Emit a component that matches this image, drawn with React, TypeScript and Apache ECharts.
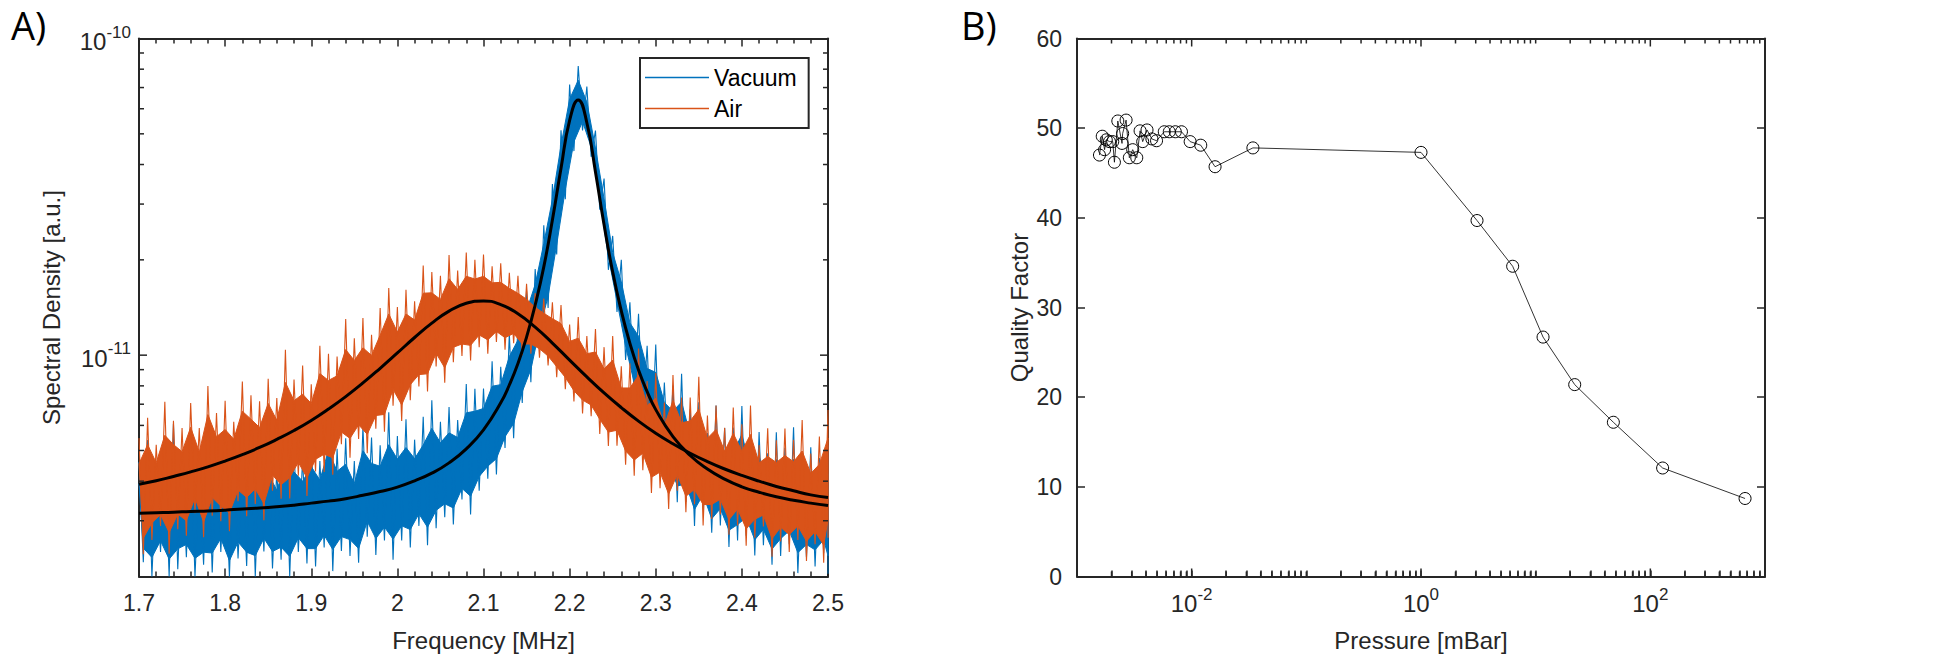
import React, { useEffect, useRef } from 'react';
import * as echarts from 'echarts';

// ---------------- Panel A: spectral density (values in units of 1e-12) ----------------
const densityUnit = 1e-12;
const noiseStartMHz = 1.7;
const noiseStepMHz = 0.01;

// upper (spike) and lower excursions of the measured noise, read every 0.01 MHz
const vacuumHi = [4.6, 5.4, 4.29, 4.93, 6.06, 4.48, 5.14, 4.17, 5.64, 4.85,
  4.54, 5.36, 4.41, 5.9, 4.77, 5.13, 4.32, 5.68, 5.04, 4.73,
  5.46, 4.63, 6.4, 5.06, 5.46, 4.63, 5.96, 5.49, 5.19, 6.6,
  5.55, 6.27, 5.41, 6.39, 7.21, 6.16, 6.86, 6.24, 8.1, 7.83,
  7.84, 9.56, 9.19, 11.7, 12.7, 16.0, 18.7, 25.7, 34.7, 51.3,
  71.6, 81.9, 70.5, 51.2, 36.1, 23.8, 20.0, 14.7, 13.5, 10.7,
  10.8, 8.19, 8.02, 8.74, 6.75, 7.1, 5.68, 6.93, 5.89, 5.91,
  6.91, 5.26, 5.72, 4.9, 5.71, 5.1, 5.92, 4.47, 5.12, 4.73,
  5.19];
const vacuumLo = [2.22, 2.0, 2.39, 1.91, 2.11, 2.3, 1.86, 2.18, 2.06, 2.39,
  1.98, 2.28, 2.16, 1.97, 2.4, 2.12, 2.26, 1.97, 2.39, 2.2,
  2.15, 2.47, 2.08, 2.41, 2.32, 2.21, 2.67, 2.34, 2.6, 2.26,
  2.6, 2.47, 2.89, 2.51, 2.84, 3.08, 2.92, 3.5, 3.14, 3.73,
  4.07, 4.2, 5.09, 5.47, 7.06, 8.21, 11.2, 14.1, 20.8, 31.1,
  44.1, 51.2, 42.3, 28.8, 18.6, 13.7, 9.66, 7.41, 6.46, 5.06,
  4.31, 4.25, 3.43, 3.44, 2.89, 3.25, 2.75, 2.9, 2.48, 2.6,
  2.69, 2.33, 2.51, 2.18, 2.32, 2.53, 2.05, 2.3, 2.15, 2.37,
  2.04];
const airHi = [5.47, 6.34, 5.21, 7.12, 6.21, 5.89, 7.06, 5.89, 7.99, 6.57,
  7.18, 6.16, 8.25, 7.47, 7.15, 8.42, 7.32, 10.4, 8.38, 9.28,
  8.09, 10.7, 10.1, 9.9, 13.0, 11.3, 13.1, 11.6, 14.1, 16.3,
  14.2, 16.1, 14.8, 19.2, 18.3, 17.8, 20.7, 18.5, 21.1, 20.0,
  20.8, 19.1, 19.5, 18.2, 17.8, 16.8, 15.7, 15.1, 14.7, 14.4,
  12.5, 13.2, 11.5, 12.1, 10.6, 11.5, 9.22, 9.43, 10.5, 8.29,
  8.79, 7.09, 8.66, 7.35, 7.35, 8.55, 6.45, 6.94, 5.9, 6.83,
  6.05, 6.94, 5.2, 5.88, 5.39, 5.87, 5.41, 6.24, 4.89, 5.53,
  6.71];
const airLo = [2.35, 2.61, 2.89, 2.36, 2.82, 2.69, 3.17, 2.66, 3.11, 2.99,
  2.78, 3.46, 3.1, 3.39, 3.01, 3.73, 3.52, 3.53, 4.16, 3.59,
  4.29, 4.28, 4.19, 5.23, 4.74, 5.44, 4.9, 5.86, 5.73, 6.92,
  6.2, 7.21, 7.96, 7.68, 9.21, 8.18, 9.5, 9.94, 9.62, 10.6,
  10.1, 11.0, 10.4, 10.9, 10.0, 10.1, 9.81, 9.28, 8.52, 7.81,
  7.14, 6.54, 6.41, 5.64, 5.17, 5.18, 4.51, 4.16, 4.33, 3.67,
  3.8, 3.27, 3.73, 3.19, 3.38, 2.9, 3.04, 3.14, 2.71, 2.9,
  2.5, 2.65, 2.88, 2.31, 2.58, 2.39, 2.61, 2.24, 2.53, 2.21,
  2.65];

const vacuumFitFreq = [1.70, 1.72, 1.74, 1.76, 1.78, 1.80, 1.82, 1.84, 1.86, 1.88,
  1.90, 1.92, 1.94, 1.96, 1.98, 2.00, 2.02, 2.04, 2.06, 2.08, 2.10, 2.12,
  2.13, 2.14, 2.15, 2.16, 2.17, 2.18, 2.19, 2.20, 2.21, 2.22, 2.23, 2.24,
  2.25, 2.26, 2.27, 2.28, 2.29, 2.30,
  2.32, 2.34, 2.36, 2.38, 2.40, 2.42, 2.44, 2.46, 2.48, 2.50];
const vacuumFitVal = [3.17, 3.18, 3.19, 3.21, 3.22, 3.24, 3.27, 3.29, 3.32, 3.36,
  3.41, 3.46, 3.52, 3.61, 3.71, 3.83, 4.01, 4.24, 4.57, 5.06, 5.81, 7.07,
  8.05, 9.41, 11.4, 14.4, 19.0, 26.7, 38.9, 55.1, 64.0, 54.2, 37.9, 25.8,
  18.3, 13.8, 10.9, 8.97, 7.67, 6.73,
  5.53, 4.82, 4.37, 4.06, 3.84, 3.69, 3.57, 3.48, 3.41, 3.35];

const airFitFreq = [1.70, 1.72, 1.74, 1.76, 1.78, 1.80, 1.82, 1.84, 1.86, 1.88,
  1.90, 1.92, 1.94, 1.96, 1.98, 2.00, 2.02, 2.04, 2.06, 2.08,
  2.10, 2.12, 2.14, 2.16, 2.18, 2.20, 2.22, 2.24, 2.26, 2.28,
  2.30, 2.32, 2.34, 2.36, 2.38, 2.40, 2.42, 2.44, 2.46, 2.48, 2.50];
const airFitVal = [3.91, 4.01, 4.14, 4.28, 4.44, 4.63, 4.85, 5.11, 5.42, 5.78,
  6.22, 6.76, 7.40, 8.17, 9.09, 10.16, 11.37, 12.62, 13.77, 14.58,
  14.84, 14.45, 13.51, 12.26, 10.92, 9.65, 8.54, 7.60, 6.83, 6.19,
  5.67, 5.25, 4.90, 4.61, 4.37, 4.17, 4.00, 3.85, 3.73, 3.62, 3.55];

const legendNames = ['Vacuum', 'Air'];

// ---------------- Panel B: quality factor vs pressure ----------------
const pressure = [0.00157, 0.00166, 0.00174, 0.0018, 0.00192, 0.00205, 0.00212, 0.00227,
  0.00247, 0.0025, 0.00268, 0.00286, 0.00306, 0.00332, 0.00355, 0.00374, 0.00408, 0.0045,
  0.00494, 0.00577, 0.00638, 0.0072, 0.00815, 0.0097, 0.012, 0.016, 0.0342,
  1.0, 3.08, 6.3, 11.6, 21.9, 47.6, 128, 670];
const qualityFactor = [47.0, 49.1, 47.6, 48.7, 48.5, 48.5, 46.2, 50.8,
  48.3, 49.4, 50.9, 46.7, 47.6, 46.7, 49.7, 48.5, 49.8, 48.8,
  48.6, 49.6, 49.6, 49.6, 49.6, 48.5, 48.1, 45.7, 47.8,
  47.3, 39.7, 34.6, 26.7, 21.4, 17.2, 12.1, 8.7];

// ---------------- axis ranges ----------------
const freqMin = 1.7, freqMax = 2.5, freqStep = 0.1;
const densityMin = 2e-12, densityMax = 1e-10;
const pressureMin = 1e-3, pressureMax = 1e3;
const qMin = 0, qMax = 60, qStep = 10;

const axisColor = '#262626';
const font = '"Liberation Sans", Arial, sans-serif';
const blue = '#0072BD';
const orange = '#D95319';
const tickFont = 23;
const titleFont = 24;

function powLabel(v: number) {
  const e = Math.log10(v);
  const r = Math.round(e);
  if (Math.abs(e - r) > 1e-6) return '';
  return `{b|10}{s|${r}}`;
}
const powRich = {
  b: { fontSize: 24, fontFamily: font, color: axisColor, lineHeight: 30, verticalAlign: 'bottom' },
  s: { fontSize: 17, fontFamily: font, color: axisColor, lineHeight: 17, verticalAlign: 'top' },
};

function logTicks(min: number, max: number, majorEven: boolean) {
  const out: number[][] = [];
  const e0 = Math.floor(Math.log10(min));
  const e1 = Math.ceil(Math.log10(max));
  for (let e = e0; e <= e1; e++) {
    for (let k = 1; k <= 9; k++) {
      const v = k * Math.pow(10, e);
      if (v <= min * 1.0001 || v >= max * 0.9999) continue;
      out.push([v, k === 1 && (!majorEven || e % 2 === 0) ? 1 : 0]);
    }
  }
  return out;
}

const tickLine = { color: axisColor, width: 1.5 };
const tickStyle = { stroke: axisColor, lineWidth: 1.5 };

// noise band: solid core plus spikes, drawn from the spike tops and dips through the axis scales
function bandSeries(name: string, color: string, hi: number[], lo: number[], z: number) {
  return {
    name, type: 'custom', xAxisIndex: 0, yAxisIndex: 0, z, silent: true,
    color, itemStyle: { color },
    data: hi.map((h, i) => [noiseStartMHz + i * noiseStepMHz, h * densityUnit, lo[i] * densityUnit]),
    renderItem: (params: any, api: any) => {
      if (params.dataIndex !== 0) return null;
      const cs = params.coordSys;
      const n = params.dataInsideLength;
      const clampPt = (p: number[]) => [
        Math.min(Math.max(p[0], cs.x), cs.x + cs.width),
        Math.min(Math.max(p[1], cs.y), cs.y + cs.height),
      ];
      const upper: number[][] = [];
      const lower: number[][] = [];
      const zig: number[][] = [];
      for (let j = 0; j < n; j++) {
        const f = api.value(0, j);
        const a = clampPt(api.coord([f, api.value(1, j)]));
        const b = clampPt(api.coord([f + noiseStepMHz / 2, api.value(2, j)]));
        upper.push([a[0], b[1] + 0.78 * (a[1] - b[1])]);
        lower.push([b[0], b[1] + 0.14 * (a[1] - b[1])]);
        zig.push(a, b);
      }
      const poly = upper.concat(lower.slice().reverse());
      return {
        type: 'group',
        children: [
          { type: 'polygon', shape: { points: poly }, style: { fill: color, stroke: color, lineWidth: 1 } },
          { type: 'polyline', shape: { points: zig }, style: { fill: 'none', stroke: color, lineWidth: 1.1 } },
        ],
      };
    },
  };
}

export default function App() {
  const ref = useRef<HTMLDivElement>(null);
  useEffect(() => {
    if (!ref.current) return;
    const chart = echarts.init(ref.current, undefined, { renderer: 'svg' });

    const densTicks = logTicks(densityMin, densityMax, false);
    const presTicks = logTicks(pressureMin, pressureMax, true);

    const frameLine = { show: true, onZero: false, lineStyle: { color: axisColor, width: 2 } };
    const hidden = { show: false };
    const majorTick = { show: true, inside: true, length: 8, lineStyle: tickLine };
    const minorTick = { show: true, splitNumber: 5, length: 5, lineStyle: tickLine };
    const titleStyle = { fontSize: titleFont, color: axisColor, fontFamily: font };

    const pressAxis = { type: 'log', logBase: 10, min: pressureMin, max: pressureMax, splitLine: hidden, minorTick: hidden };
    const densAxis = { type: 'log', logBase: 10, min: densityMin, max: densityMax, splitLine: hidden, minorTick: hidden };

    const option: any = {
      animation: false,
      backgroundColor: '#fff',
      textStyle: { fontFamily: font },
      graphic: [
        { type: 'text', left: 11, top: 6, style: { text: 'A)', fontSize: 38, fontFamily: '"Open Sans", sans-serif', fill: '#000' } },
        { type: 'text', left: 961, top: 6, style: { text: 'B)', fontSize: 38, fontFamily: '"Open Sans", sans-serif', fill: '#000' } },
      ],
      legend: {
        data: legendNames,
        orient: 'vertical',
        left: 640,
        top: 58,
        icon: 'rect',
        itemWidth: 64,
        itemHeight: 1.5,
        itemGap: 8,
        padding: [8, 12, 8, 5],
        backgroundColor: '#fff',
        borderColor: axisColor,
        borderWidth: 2,
        z: 10,
        textStyle: { fontSize: 23, color: '#000', fontFamily: font },
      },
      grid: [
        { left: 139, top: 38.5, width: 689, height: 538 },
        { left: 1077, top: 38.5, width: 688, height: 538 },
      ],
      xAxis: [
        {
          type: 'value', gridIndex: 0, position: 'bottom', min: freqMin, max: freqMax, interval: freqStep,
          axisLine: frameLine, axisTick: majorTick, minorTick, splitLine: hidden,
          axisLabel: { fontSize: tickFont, color: axisColor, margin: 15, fontFamily: font },
          name: 'Frequency [MHz]', nameLocation: 'middle', nameGap: 52, nameTextStyle: titleStyle,
        },
        {
          type: 'value', gridIndex: 0, position: 'top', min: freqMin, max: freqMax, interval: freqStep,
          axisLine: frameLine, axisTick: majorTick, minorTick, splitLine: hidden, axisLabel: hidden,
        },
        {
          ...pressAxis, gridIndex: 1, position: 'bottom',
          axisLine: frameLine,
          axisTick: { show: true, inside: true, length: 6, lineStyle: tickLine, customValues: presTicks.map((t) => t[0]) },
          axisLabel: {
            margin: 9, fontSize: 24, fontFamily: font,
            formatter: (v: number) => (Math.round(Math.log10(v)) % 2 === 0 ? powLabel(v) : ''),
            rich: powRich,
          },
          name: 'Pressure [mBar]', nameLocation: 'middle', nameGap: 52, nameTextStyle: titleStyle,
        },
        {
          ...pressAxis, gridIndex: 1, position: 'top',
          axisLine: frameLine, axisTick: hidden, axisLabel: hidden,
        },
      ],
      yAxis: [
        {
          ...densAxis, gridIndex: 0, position: 'left',
          axisLine: frameLine, axisTick: hidden,
          axisLabel: { margin: 8, fontSize: 24, fontFamily: font, formatter: powLabel, rich: powRich },
          name: 'Spectral Density [a.u.]', nameLocation: 'middle', nameGap: 76, nameRotate: 90, nameTextStyle: titleStyle,
        },
        {
          ...densAxis, gridIndex: 0, position: 'right',
          axisLine: frameLine, axisTick: hidden, axisLabel: hidden,
        },
        {
          type: 'value', gridIndex: 1, position: 'left', min: qMin, max: qMax, interval: qStep,
          axisLine: frameLine, axisTick: majorTick, splitLine: hidden,
          axisLabel: { fontSize: tickFont, color: axisColor, margin: 15, fontFamily: font },
          name: 'Quality Factor', nameLocation: 'middle', nameGap: 46, nameRotate: 90, nameTextStyle: titleStyle,
        },
        {
          type: 'value', gridIndex: 1, position: 'right', min: qMin, max: qMax, interval: qStep,
          axisLine: frameLine, axisTick: majorTick, splitLine: hidden, axisLabel: hidden,
        },
      ],
      series: [
        bandSeries('Vacuum', blue, vacuumHi, vacuumLo, 2),
        bandSeries('Air', orange, airHi, airLo, 3),
        {
          name: 'Vacuum fit', type: 'line', xAxisIndex: 0, yAxisIndex: 0,
          data: vacuumFitFreq.map((f, i) => [f, vacuumFitVal[i] * densityUnit]),
          showSymbol: false, symbol: 'none', smooth: true, color: '#000', lineStyle: { color: '#000', width: 3 }, z: 4, silent: true,
        },
        {
          name: 'Air fit', type: 'line', xAxisIndex: 0, yAxisIndex: 0,
          data: airFitFreq.map((f, i) => [f, airFitVal[i] * densityUnit]),
          showSymbol: false, symbol: 'none', smooth: true, color: '#000', lineStyle: { color: '#000', width: 3 }, z: 4, silent: true,
        },
        {
          // log tick marks of the spectral-density axis, on the left and right frame
          name: 'densityTicks', type: 'custom', xAxisIndex: 0, yAxisIndex: 0, silent: true, z: 6,
          data: densTicks.map(([v, m]) => [freqMin, v, m]),
          renderItem: (params: any, api: any) => {
            const v = api.value(1);
            const pl = api.coord([freqMin, v]);
            const pr = api.coord([freqMax, v]);
            const len = api.value(2) ? 8 : 5;
            return {
              type: 'group', children: [
                { type: 'line', shape: { x1: pl[0], y1: pl[1], x2: pl[0] + len, y2: pl[1] }, style: tickStyle },
                { type: 'line', shape: { x1: pr[0], y1: pr[1], x2: pr[0] - len, y2: pr[1] }, style: tickStyle },
              ],
            };
          },
        },
        {
          name: 'Quality Factor', type: 'line', xAxisIndex: 2, yAxisIndex: 2,
          data: pressure.map((p, i) => [p, qualityFactor[i]]),
          symbol: 'circle', symbolSize: 12, showSymbol: true, silent: true,
          lineStyle: { color: '#000', width: 0.8 },
          itemStyle: { color: 'rgba(0,0,0,0)', borderColor: '#000', borderWidth: 1 },
          z: 5,
        },
        {
          // log tick marks of the pressure axis on the top frame, longer at labelled decades
          name: 'pressureTicks', type: 'custom', xAxisIndex: 2, yAxisIndex: 2, silent: true, z: 6,
          data: presTicks.map(([v, m]) => [v, (qMin + qMax) / 2, m]),
          renderItem: (params: any, api: any) => {
            const x = api.coord([api.value(0), qMax])[0];
            const yt = api.coord([api.value(0), qMax])[1];
            const yb = api.coord([api.value(0), qMin])[1];
            const len = api.value(2) ? 8 : 5;
            return {
              type: 'group', children: [
                { type: 'line', shape: { x1: x, y1: yt, x2: x, y2: yt + len }, style: tickStyle },
                { type: 'line', shape: { x1: x, y1: yb, x2: x, y2: yb - len }, style: tickStyle },
              ],
            };
          },
        },
      ],
    };
    chart.setOption(option);
    return () => chart.dispose();
  }, []);
  return <div ref={ref} style={{ position: 'absolute', left: 0, top: 0, width: 1949, height: 665, background: '#fff' }} />;
}
